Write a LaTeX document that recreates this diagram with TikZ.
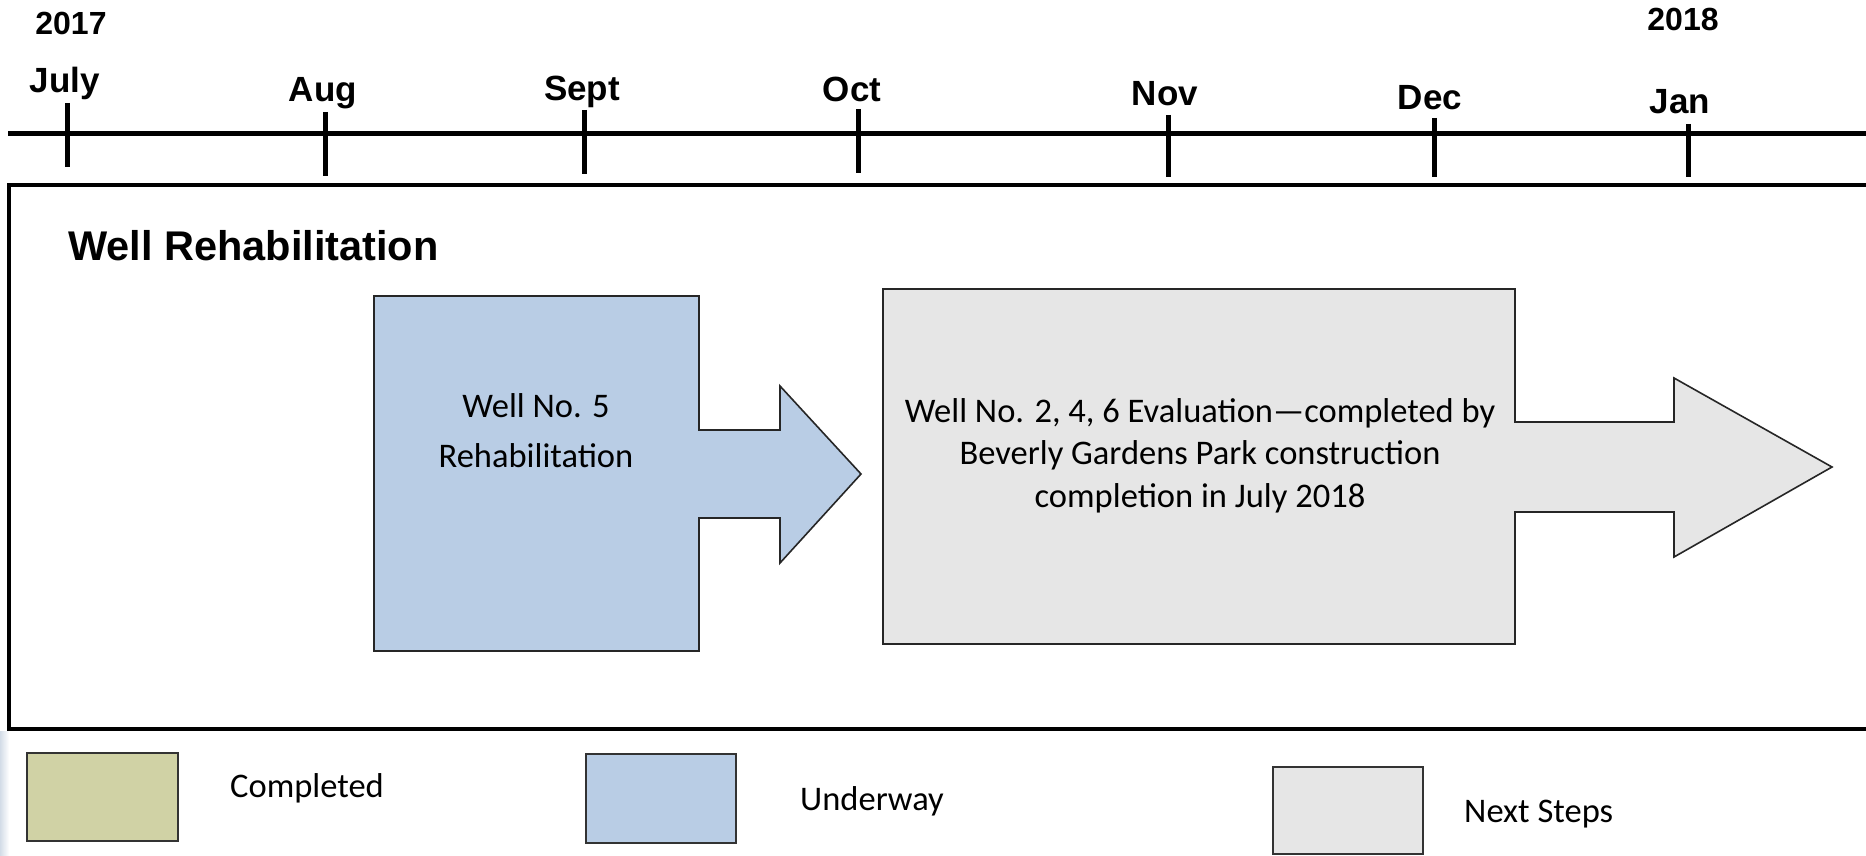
\documentclass[tikz,border=0pt]{standalone}
\usepackage{fontspec}
\setmainfont{Liberation Sans}
\newfontfamily\calib{Carlito}
\definecolor{blueF}{HTML}{B9CDE5}
\definecolor{grayF}{HTML}{E6E6E6}
\definecolor{oliveF}{HTML}{D0D2A5}
\definecolor{edgeF}{HTML}{D3DCE7}
\begin{document}
\begin{tikzpicture}[x=1pt,y=-1pt,
  month/.style={font=\bfseries\fontsize{35}{40}\selectfont, anchor=base, inner sep=0pt},
  yearlbl/.style={font=\bfseries\fontsize{32}{36}\selectfont, anchor=base, inner sep=0pt},
  tickmark/.style={line width=5pt},
  arrowbox/.style={draw=black!85, line width=1.6pt, line join=miter},
  boxtext/.style={font=\calib\fontsize{34.5}{40}\selectfont, anchor=base, inner sep=0pt},
  legtext/.style={font=\calib\fontsize{34.5}{40}\selectfont, anchor=base west, inner sep=0pt},
  swatch/.style={draw=black!80, line width=2.5pt}]
\useasboundingbox (0,0) rectangle (1866,856);
\fill[white] (0,0) rectangle (1866,856);
% faint left edge strip
\shade[left color=edgeF, right color=white] (0,731) rectangle (9,856);
% years
\node[yearlbl] (y17) at (71,35) {2017};
\node[yearlbl] (y18) at (1683,31) {2018};
% months
\node[month] (jul) at (65,93) {July};
\node[month] (aug) at (323,102) {Aug};
\node[month] (sep) at (582,101) {Sept};
\node[month] (oct) at (852,102) {Oct};
\node[month] (nov) at (1165,106) {Nov};
\node[month] (dec) at (1430,110) {Dec};
\node[month] (jan) at (1680,114) {Jan};
% axis
\coordinate (axL) at (8,134);
\coordinate (axR) at (1880,134);
\draw[line width=5pt] (axL) -- (axR);
% ticks
\draw[tickmark] (67,103) -- (67,167);
\draw[tickmark] (325,112) -- (325,176);
\draw[tickmark] (584,110) -- (584,174);
\draw[tickmark] (858,109) -- (858,173);
\draw[tickmark] (1168,115) -- (1168,177);
\draw[tickmark] (1434,118) -- (1434,177);
\draw[tickmark] (1688,124) -- (1688,177);
% main frame
\draw[line width=4pt] (1890,185) -- (9,185) -- (9,729) -- (1890,729);
\node[anchor=base west, font=\bfseries\fontsize{41.5}{48}\selectfont, inner sep=0pt] (title) at (68,260) {Well Rehabilitation};
% blue arrow
\draw[arrowbox, fill=blueF] (374,296) -- (699,296) -- (699,430) -- (780,430) -- (780,386)
  -- (861,474) -- (780,563) -- (780,518) -- (699,518) -- (699,651) -- (374,651) -- cycle;
\node[boxtext] (w5a) at (536,417) {Well No. 5};
\node[boxtext] (w5b) at (536,467) {Rehabilitation};
% gray arrow
\draw[arrowbox, fill=grayF] (883,289) -- (1515,289) -- (1515,422) -- (1674,422) -- (1674,378)
  -- (1832,467) -- (1674,557) -- (1674,512) -- (1515,512) -- (1515,644) -- (883,644) -- cycle;
\node[boxtext] (g1) at (1200,422) {Well No. 2, 4, 6 Evaluation—completed by};
\node[boxtext] (g2) at (1200,464) {Beverly Gardens Park construction};
\node[boxtext] (g3) at (1200,507) {completion in July 2018};
% legend
\draw[swatch, fill=oliveF] (27,753) rectangle (178,841);
\node[legtext] (lc) at (230,797) {Completed};
\draw[swatch, fill=blueF] (586,754) rectangle (736,843);
\node[legtext] (lu) at (800,810) {Underway};
\draw[swatch, fill=grayF] (1273,767) rectangle (1423,854);
\node[legtext] (ln) at (1464,822) {Next Steps};
\end{tikzpicture}
\end{document}
